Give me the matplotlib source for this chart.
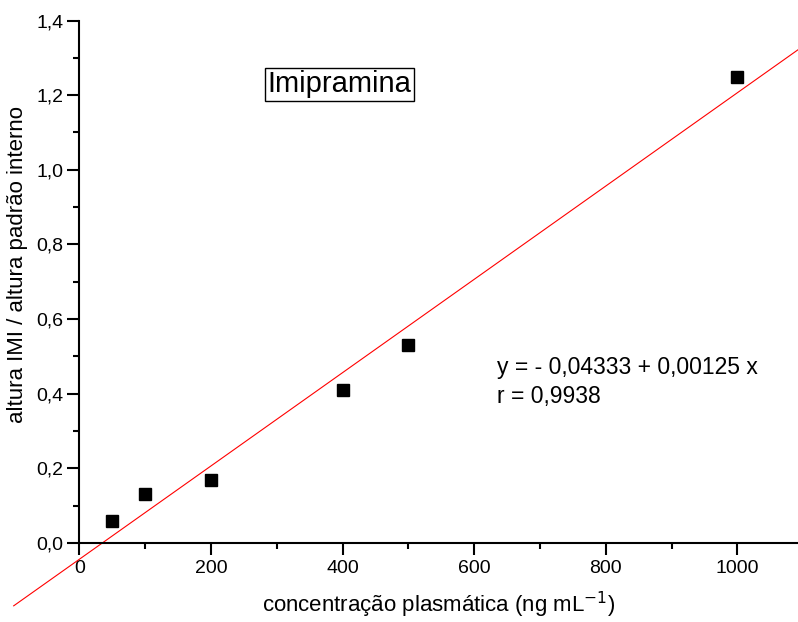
import matplotlib
matplotlib.use("Agg")
import matplotlib.pyplot as plt
from matplotlib.ticker import MultipleLocator, FuncFormatter
import numpy as np

plt.rcParams['font.family'] = ['Liberation Sans', 'DejaVu Sans']

# Calibration data: plasma concentration vs. peak height ratio
concentracao = [50, 100, 200, 400, 500, 1000]
razao_altura = [0.06, 0.13, 0.17, 0.41, 0.53, 1.25]

# Linear fit parameters
intercepto = -0.04333
inclinacao = 0.00125
r_corr = 0.9938
faixa_reta = [-100, 1100]

fig = plt.figure(figsize=(7.98, 6.22), dpi=100)
ax = fig.add_axes([0.0996, 0.127, 0.9004, 0.840])

x_fit = np.array(faixa_reta, dtype=float)
ax.plot(x_fit, intercepto + inclinacao * x_fit, color='red', lw=0.8, clip_on=False, zorder=2)
ax.plot(concentracao, razao_altura, 's', color='black', ms=8.5, zorder=3)

ax.set_xlim(0, 1092)
ax.set_ylim(0, 1.4)

for s in ['top', 'right']:
    ax.spines[s].set_visible(False)
for s in ['left', 'bottom']:
    ax.spines[s].set_linewidth(1.5)

ax.xaxis.set_major_locator(MultipleLocator(200))
ax.xaxis.set_minor_locator(MultipleLocator(100))
ax.yaxis.set_major_locator(MultipleLocator(0.2))
ax.yaxis.set_minor_locator(MultipleLocator(0.1))
ax.yaxis.set_major_formatter(FuncFormatter(lambda v, p: f"{v:.1f}".replace('.', ',')))
ax.xaxis.set_major_formatter(FuncFormatter(lambda v, p: f"{v:.0f}"))

ax.tick_params(which='major', direction='out', length=8.5, width=1.5, labelsize=14)
ax.tick_params(which='minor', direction='out', length=4.5, width=1.5)
ax.tick_params(axis='x', which='major', pad=4)
ax.tick_params(axis='y', which='major', pad=3)

ax.set_xlabel("concentração plasmática (ng mL$^{-1}$)", fontsize=16, labelpad=9)
ax.set_ylabel("altura IMI / altura padrão interno", fontsize=16)
ax.yaxis.set_label_coords(-0.072, 0.534)

ax.text(395, 1.229, "Imipramina", fontsize=21, ha='center', va='center',
        bbox=dict(boxstyle='square,pad=0.08', fc='white', ec='black', lw=1.0))

ax.text(634, 0.432, "y = - 0,04333 + 0,00125 x\nr = 0,9938", fontsize=16.5,
        ha='left', va='center', linespacing=1.35)

fig.savefig("out.png", dpi=100)
